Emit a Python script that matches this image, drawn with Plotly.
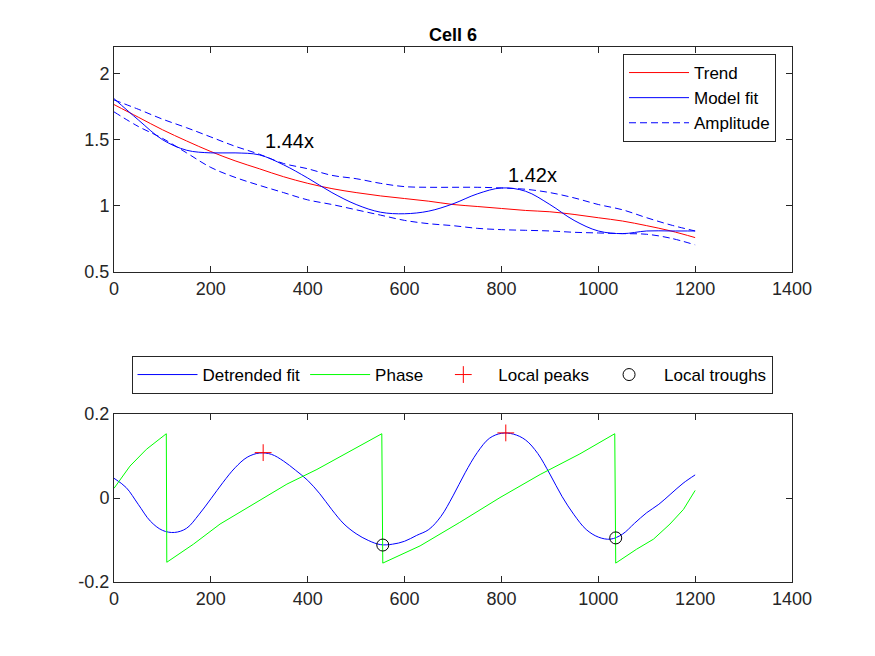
import plotly.graph_objects as go

# === values ===
x_top = [0, 50, 100, 150, 200, 250, 300, 350, 400, 450, 500, 550, 600,
         650, 700, 750, 800, 850, 900, 950, 1000, 1050, 1100, 1150, 1200]
trend = [1.765, 1.67, 1.575, 1.49, 1.41, 1.34, 1.28, 1.22, 1.17, 1.13, 1.10, 1.075, 1.055,
         1.035, 1.01, 0.995, 0.98, 0.965, 0.955, 0.935, 0.91, 0.885, 0.85, 0.81, 0.76]
model_fit = [1.81, 1.65, 1.50, 1.42, 1.40, 1.40, 1.385, 1.31, 1.21, 1.10, 1.01, 0.952, 0.94,
             0.96, 1.015, 1.09, 1.135, 1.11, 1.01, 0.89, 0.81, 0.79, 0.81, 0.81, 0.81]
amp_upper = [1.80, 1.73, 1.655, 1.59, 1.52, 1.45, 1.39, 1.32, 1.28, 1.23, 1.205, 1.17, 1.145,
             1.14, 1.14, 1.14, 1.135, 1.125, 1.10, 1.06, 1.01, 0.97, 0.91, 0.855, 0.81]
amp_lower = [1.71, 1.60, 1.51, 1.40, 1.29, 1.215, 1.155, 1.10, 1.045, 1.01, 0.97, 0.93, 0.89,
             0.865, 0.85, 0.83, 0.82, 0.815, 0.81, 0.80, 0.795, 0.79, 0.785, 0.755, 0.705]

# ratio labels (peak position, label height, text)
ratio_x = [308, 809]
ratio_y = [1.49, 1.235]
ratio_txt = ["1.44x", "1.42x"]

x_bot = [0, 25, 50, 75, 100, 125, 150, 175, 200, 225, 250, 275, 300, 325, 350, 375, 400,
         425, 450, 475, 500, 525, 550, 575, 600, 625, 650, 675, 700, 725, 750, 775, 800,
         825, 850, 875, 900, 925, 950, 975, 1000, 1025, 1050, 1075, 1100, 1125, 1150, 1175, 1200]
detrended = [0.047, 0.025, -0.015, -0.055, -0.077, -0.082, -0.072, -0.04, -0.002, 0.037, 0.072,
             0.097, 0.107, 0.104, 0.088, 0.066, 0.042, 0.01, -0.028, -0.062, -0.085, -0.101,
             -0.111, -0.11, -0.103, -0.089, -0.075, -0.044, 0.005, 0.06, 0.108, 0.142, 0.154,
             0.152, 0.138, 0.106, 0.057, 0.004, -0.04, -0.075, -0.093, -0.098, -0.086, -0.06,
             -0.035, -0.015, 0.01, 0.035, 0.055]

phase_x = [0, 33, 67, 108, 109, 164, 219, 288, 357, 419, 487, 553, 555, 632, 714, 797,
           880, 962, 1034, 1036, 1079, 1114, 1148, 1176, 1200]
phase_y = [0.023, 0.076, 0.116, 0.153, -0.153, -0.11, -0.062, -0.015, 0.033, 0.068, 0.111,
           0.153, -0.155, -0.114, -0.058, 0.001, 0.056, 0.105, 0.153, -0.155, -0.122,
           -0.098, -0.062, -0.027, 0.018]

peaks_x = [308, 809]
peaks_y = [0.108, 0.155]
troughs_x = [555, 1036]
troughs_y = [-0.112, -0.095]

FONT = "Liberation Sans, Arial, Helvetica, sans-serif"
AX = "#262626"
W, H = 875, 656
OFF = 8  # page body margin pushes the figure 8px right/down


def px(sx):
    return (sx - OFF) / W


def py(sy):
    return 1 - (sy - OFF) / H


fig = go.Figure()

# --- top panel ---
fig.add_trace(go.Scatter(x=x_top, y=trend, name="Trend", mode="lines",
                         line=dict(color="#FF0000", width=1, shape="spline"),
                         xaxis="x", yaxis="y", legend="legend"))
fig.add_trace(go.Scatter(x=x_top, y=model_fit, name="Model fit", mode="lines",
                         line=dict(color="#0000FF", width=1, shape="spline"),
                         xaxis="x", yaxis="y", legend="legend"))
fig.add_trace(go.Scatter(x=x_top, y=amp_upper, name="Amplitude", mode="lines",
                         line=dict(color="#0000FF", width=1, dash="7px,4px", shape="spline"),
                         xaxis="x", yaxis="y", legend="legend"))
fig.add_trace(go.Scatter(x=x_top, y=amp_lower, name="Amplitude", mode="lines",
                         showlegend=False,
                         line=dict(color="#0000FF", width=1, dash="7px,4px", shape="spline"),
                         xaxis="x", yaxis="y", legend="legend"))

# --- bottom panel ---
fig.add_trace(go.Scatter(x=x_bot, y=detrended, name="Detrended fit", mode="lines",
                         line=dict(color="#0000FF", width=1, shape="spline"),
                         xaxis="x2", yaxis="y2", legend="legend2"))
fig.add_trace(go.Scatter(x=phase_x, y=phase_y, name="Phase", mode="lines",
                         line=dict(color="#00FF00", width=1),
                         xaxis="x2", yaxis="y2", legend="legend2"))
fig.add_trace(go.Scatter(x=peaks_x, y=peaks_y, name="Local peaks", mode="markers",
                         marker=dict(symbol="cross-thin", size=12, color="#FF0000",
                                     line=dict(color="#FF0000", width=1)),
                         xaxis="x2", yaxis="y2", legend="legend2"))
fig.add_trace(go.Scatter(x=troughs_x, y=troughs_y, name="Local troughs", mode="markers",
                         marker=dict(symbol="circle-open", size=12, color="#000000",
                                     line=dict(color="#000000", width=1)),
                         xaxis="x2", yaxis="y2", legend="legend2"))

for tx, ty, tt in zip(ratio_x, ratio_y, ratio_txt):
    fig.add_annotation(x=tx, y=ty, text=tt, xref="x", yref="y", showarrow=False,
                       xanchor="left", yanchor="middle",
                       font=dict(family=FONT, size=20, color="#000000"))

fig.add_annotation(x=px(453), y=py(35), xref="paper", yref="paper", text="<b>Cell 6</b>",
                   showarrow=False, xanchor="center", yanchor="middle",
                   font=dict(family=FONT, size=18, color="#000000"))

axis_common = dict(showline=True, linecolor=AX, linewidth=1, mirror="ticks",
                   ticks="inside", ticklen=6, tickcolor=AX, tickwidth=1,
                   showgrid=False, zeroline=False,
                   tickfont=dict(family=FONT, size=18, color=AX))

xd = [px(114), px(792)]
fig.update_layout(
    width=W, height=H,
    margin=dict(l=0, r=0, t=0, b=0, autoexpand=False),
    paper_bgcolor="white", plot_bgcolor="white",
    xaxis=dict(domain=xd, range=[0, 1400], tickvals=list(range(0, 1401, 200)),
               anchor="y", **axis_common),
    yaxis=dict(domain=[py(272), py(47)], range=[0.5, 2.2],
               tickvals=[0.5, 1, 1.5, 2], ticktext=["0.5", "1", "1.5", "2"],
               anchor="x", **axis_common),
    xaxis2=dict(domain=xd, range=[0, 1400], tickvals=list(range(0, 1401, 200)),
                anchor="y2", **axis_common),
    yaxis2=dict(domain=[py(582), py(414)], range=[-0.2, 0.2],
                tickvals=[-0.2, 0, 0.2], ticktext=["-0.2", "0", "0.2"],
                anchor="x2", **axis_common),
    legend=dict(x=px(776), y=py(98), xanchor="right", yanchor="middle",
                bgcolor="white", bordercolor=AX, borderwidth=1, itemwidth=60,
                tracegroupgap=0,
                font=dict(family=FONT, size=17, color="#000000")),
    legend2=dict(x=px(452), y=py(375), xanchor="center", yanchor="middle",
                 orientation="h", bgcolor="white", bordercolor=AX, borderwidth=1,
                 itemwidth=60, font=dict(family=FONT, size=17, color="#000000")),
    showlegend=True,
)

fig.write_html("out.html")
